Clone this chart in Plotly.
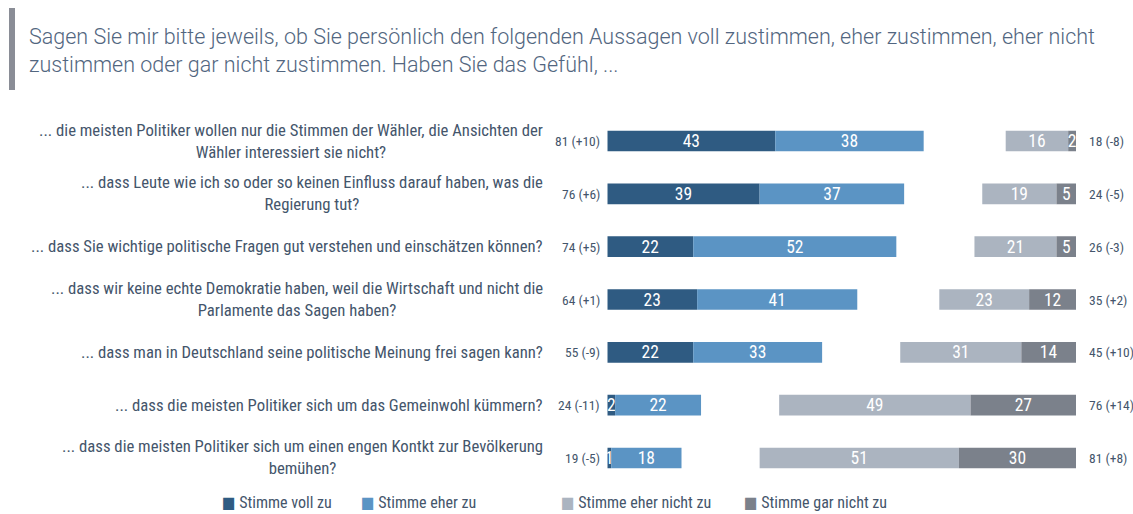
import plotly.graph_objects as go

questions = [
    "... die meisten Politiker wollen nur die Stimmen der Wähler, die Ansichten der<br>Wähler interessiert sie nicht?",
    "... dass Leute wie ich so oder so keinen Einfluss darauf haben, was die<br>Regierung tut?",
    "... dass Sie wichtige politische Fragen gut verstehen und einschätzen können?",
    "... dass wir keine echte Demokratie haben, weil die Wirtschaft und nicht die<br>Parlamente das Sagen haben?",
    "... dass man in Deutschland seine politische Meinung frei sagen kann?",
    "... dass die meisten Politiker sich um das Gemeinwohl kümmern?",
    "... dass die meisten Politiker sich um einen engen Kontkt zur Bevölkerung<br>bemühen?",
]
voll_zu = [43, 39, 22, 23, 22, 2, 1]
eher_zu = [38, 37, 52, 41, 33, 22, 18]
eher_nicht_zu = [16, 19, 21, 23, 31, 49, 51]
gar_nicht_zu = [2, 5, 5, 12, 14, 27, 30]
change_agree = ["+10", "+6", "+5", "+1", "-9", "-11", "-5"]
change_disagree = ["-8", "-5", "-3", "+2", "+10", "+14", "+8"]
series_names = ["Stimme voll zu", "Stimme eher zu", "Stimme eher nicht zu", "Stimme gar nicht zu"]
colors = ["#2f5b82", "#5b94c4", "#abb4c0", "#7b818b"]

W, H = 1133, 514
RIGHT_END = 120  # axis units where the disagree block ends

COND = "Liberation Sans Narrow, Roboto Condensed, DejaVu Sans Condensed, Roboto, sans-serif"
TXT = "#44556b"

rows = list(range(len(questions)))

fig = go.Figure()

def add_bar(name, vals, base, color):
    fig.add_trace(go.Bar(
        y=rows, x=vals, base=base, orientation="h", name=name,
        marker=dict(color=color, line=dict(width=0)),
        text=[str(v) for v in vals], textposition="inside", textangle=0,
        insidetextanchor="middle", constraintext="none",
        textfont=dict(color="white", size=17.5, family=COND),
        showlegend=False, hoverinfo="skip",
    ))

add_bar(series_names[0], voll_zu, [0] * len(rows), colors[0])
add_bar(series_names[1], eher_zu, voll_zu, colors[1])
dis_total = [a + b for a, b in zip(eher_nicht_zu, gar_nicht_zu)]
add_bar(series_names[2], eher_nicht_zu, [RIGHT_END - t for t in dis_total], colors[2])
add_bar(series_names[3], gar_nicht_zu, [RIGHT_END - g for g in gar_nicht_zu], colors[3])

annotations = []
for i, q in enumerate(questions):
    annotations.append(dict(
        x=545 / W, xref="paper", y=i, yref="y", text=q, showarrow=False,
        xanchor="right", yanchor="middle", align="center",
        font=dict(family=COND, size=16.7, color=TXT),
    ))
    agree = voll_zu[i] + eher_zu[i]
    annotations.append(dict(
        x=0, xref="x", y=i, yref="y", text=f"{agree} ({change_agree[i]})",
        showarrow=False, xanchor="right", xshift=-5, yanchor="middle",
        font=dict(family=COND, size=13.5, color=TXT),
    ))
    annotations.append(dict(
        x=RIGHT_END, xref="x", y=i, yref="y", text=f"{dis_total[i]} ({change_disagree[i]})",
        showarrow=False, xanchor="left", xshift=11, yanchor="middle",
        font=dict(family=COND, size=13.5, color=TXT),
    ))

# title
annotations.append(dict(
    x=27 / W, xref="paper", y=1 - 22 / H, yref="paper",
    text="Sagen Sie mir bitte jeweils, ob Sie persönlich den folgenden Aussagen voll zustimmen, eher zustimmen, eher nicht<br>zustimmen oder gar nicht zustimmen. Haben Sie das Gefühl, ...",
    showarrow=False, xanchor="left", yanchor="top", align="left",
    font=dict(family="Roboto, sans-serif", size=21.5, color="#526680", weight=300),
))

# legend
legend_x = [220, 359, 559, 742]
for name, color, lx in zip(series_names, colors, legend_x):
    annotations.append(dict(
        x=lx / W, xref="paper", y=1 - 502 / H, yref="paper",
        text=f"<span style='color:{color}'>■</span> {name}",
        showarrow=False, xanchor="left", yanchor="middle",
        font=dict(family=COND, size=16, color=TXT),
    ))

fig.update_layout(
    width=W, height=H,
    margin=dict(l=0, r=0, t=0, b=0),
    paper_bgcolor="white", plot_bgcolor="white",
    barmode="overlay", bargap=0.61,
    xaxis=dict(domain=[607.3 / W, 1076 / W], range=[0, RIGHT_END], visible=False, fixedrange=True),
    yaxis=dict(domain=[1 - 484.4 / H, 1 - 114.6 / H], range=[6.5, -0.5], visible=False, fixedrange=True),
    annotations=annotations,
    shapes=[dict(type="rect", xref="paper", yref="paper",
                 x0=9 / W, x1=15 / W, y0=1 - 90 / H, y1=1 - 8 / H,
                 fillcolor="#8a8d96", line=dict(width=0))],
    uniformtext=dict(minsize=17.5, mode="show"),
)

fig.write_html("out.html", config={"displayModeBar": False},
               post_script="document.body.style.margin='0';document.body.style.overflow='hidden';")
